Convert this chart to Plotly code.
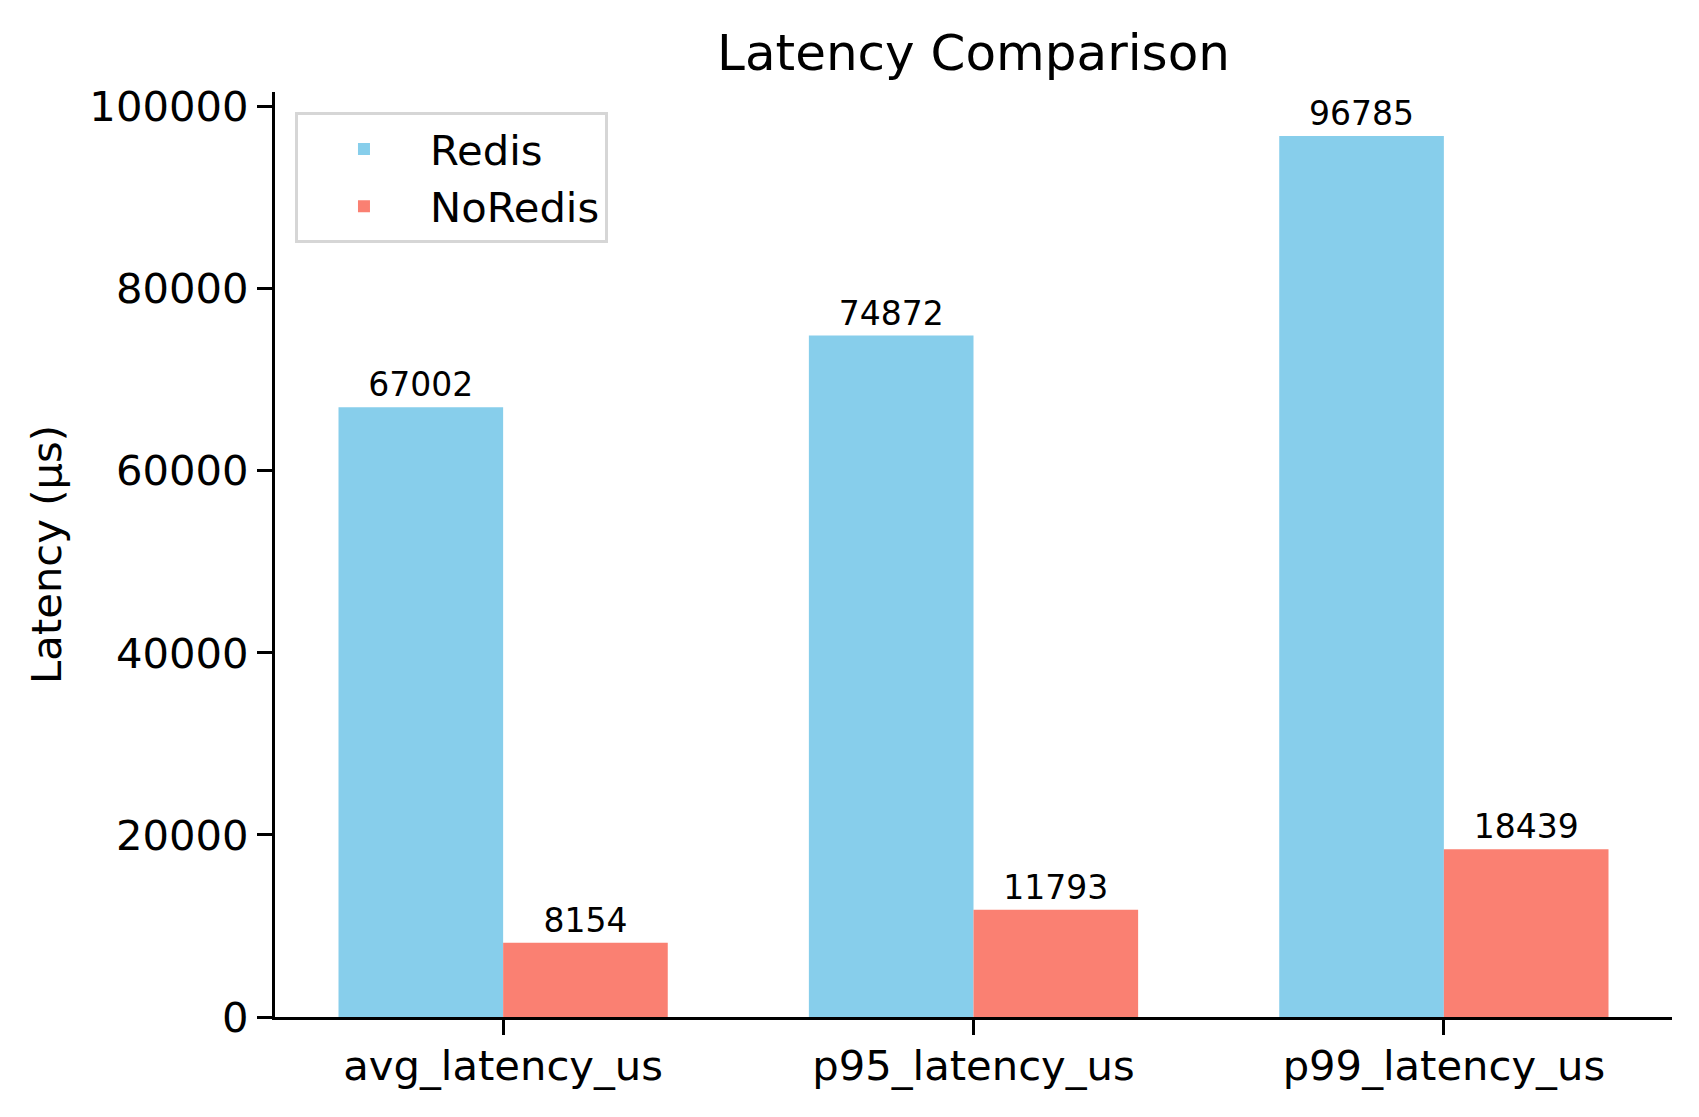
import plotly.graph_objects as go

categories = ["avg_latency_us", "p95_latency_us", "p99_latency_us"]
redis = [67002, 74872, 96785]
noredis = [8154, 11793, 18439]
y_ticks = [0, 20000, 40000, 60000, 80000, 100000]

FONT = "DejaVu Sans"

fig = go.Figure()
fig.add_trace(go.Bar(
    x=categories, y=redis, name="Redis", marker=dict(color="#87CEEB", line=dict(width=0)),
    text=[str(v) for v in redis], textposition="outside", cliponaxis=False,
    textfont=dict(size=33, color="black", family=FONT),
))
fig.add_trace(go.Bar(
    x=categories, y=noredis, name="NoRedis", marker=dict(color="#FA8072", line=dict(width=0)),
    text=[str(v) for v in noredis], textposition="outside", cliponaxis=False,
    textfont=dict(size=33, color="black", family=FONT),
))

# page body has an 8px margin, so the figure is sized/offset to compensate
fig.update_layout(
    width=1683, height=1101,
    paper_bgcolor="white", plot_bgcolor="white",
    barmode="group", bargap=0.3, bargroupgap=0,
    margin=dict(l=267, r=19, t=84, b=92),
    font=dict(family=FONT, size=41.7, color="black"),
    title=dict(text="Latency Comparison", x=0.5, xref="paper", xanchor="center",
               y=1 - 44 / 1101, yref="container", yanchor="middle",
               font=dict(size=50, family=FONT, color="black")),
    legend=dict(x=0.0143, y=0.978, xanchor="left", yanchor="top",
                bordercolor="#d6d6d6", borderwidth=3, bgcolor="white",
                font=dict(size=41.7, family=FONT, color="black"),
                itemwidth=122, tracegroupgap=10),
    showlegend=True,
)
fig.update_xaxes(
    range=[-0.485, 2.485], showline=True, linecolor="black", linewidth=3.3,
    ticks="outside", ticklen=15, tickwidth=3.3, tickcolor="black",
    showgrid=False, zeroline=False, tickfont=dict(size=41.7, family=FONT),
    ticklabelstandoff=-5,
)
fig.update_yaxes(
    range=[0, 101624], tickvals=y_ticks, ticktext=[str(v) for v in y_ticks],
    showline=True, linecolor="black", linewidth=3.3,
    ticks="outside", ticklen=15, tickwidth=3.3, tickcolor="black",
    showgrid=False, zeroline=False, tickfont=dict(size=41.7, family=FONT),
    title=dict(text="Latency (μs)", font=dict(size=41.7, family=FONT), standoff=15),
)

fig.write_html("out.html")
